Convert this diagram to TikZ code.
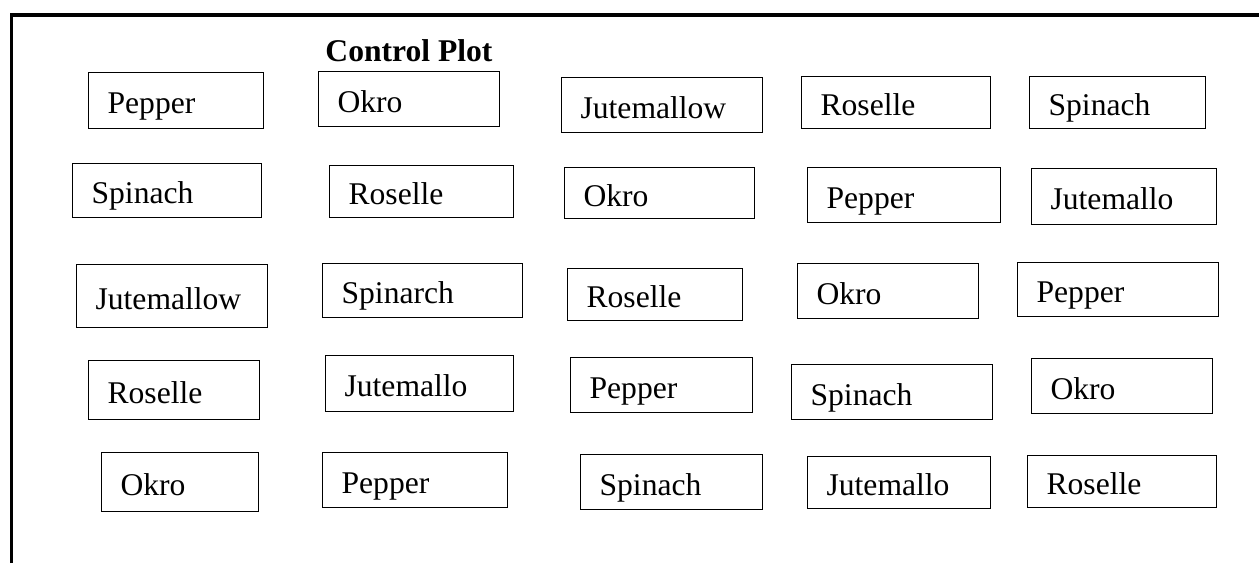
\documentclass[tikz,border=0pt]{standalone}
\usepackage{fontspec}
\setmainfont{LiberationSerif}[
    Extension=.ttf,
    UprightFont=*-Regular,
    BoldFont=*-Bold,
    ItalicFont=*-Italic,
    BoldItalicFont=*-BoldItalic]
\usepackage{tikz}
\usetikzlibrary{positioning}
\tikzset{
    % Plot cell box
    plotbox/.style={
        rectangle,
        draw=black,
        line width=0.6pt,
        fill=white,
        align=left,
        anchor=north west,
        inner xsep=9.5pt,
        inner ysep=2pt,
        text height=14pt,
        text depth=1pt,
        font=\rmfamily\fontsize{15.8}{19}\selectfont
    },
    % Title
    titlenode/.style={
        font=\rmfamily\fontsize{15.8}{19}\selectfont\bfseries,
        inner sep=0pt
    }
}
\begin{document}
\begin{tikzpicture}[x=0.5pt,y=-0.5pt]
    \useasboundingbox (0,0) rectangle (1259,563);
    % frame
    \coordinate (frame-bl) at (11.7,563);
    \coordinate (frame-tr) at (1259,15);
    \draw[line width=1.6pt] (frame-bl) |- (frame-tr);

    \node[titlenode] (title) at (409,51) {Control Plot};

    % row 1
    \node[plotbox, text width=68.5pt, minimum height=28pt] (r1-pepper) at (88,72) {Pepper};
    \node[plotbox, text width=71.5pt, minimum height=27.5pt] (r1-okro) at (318,71) {Okro};
    \node[plotbox, text width=81.5pt, minimum height=27.5pt] (r1-jute) at (561,77) {Jutemallow};
    \node[plotbox, text width=75.5pt, minimum height=26pt] (r1-roselle) at (801,76) {Roselle};
    \node[plotbox, text width=69pt, minimum height=26pt] (r1-spinach) at (1029,76) {Spinach};

    % row 2
    \node[plotbox, text width=75.5pt, minimum height=27pt] (r2-spinach) at (72,163) {Spinach};
    \node[plotbox, text width=73pt, minimum height=26pt] (r2-roselle) at (329,165) {Roselle};
    \node[plotbox, text width=76pt, minimum height=25.5pt] (r2-okro) at (564,167) {Okro};
    \node[plotbox, text width=77.5pt, minimum height=27.5pt] (r2-pepper) at (807,167) {Pepper};
    \node[plotbox, text width=73.5pt, minimum height=28pt] (r2-jute) at (1031,168) {Jutemallo};

    % row 3
    \node[plotbox, text width=76.5pt, minimum height=31.5pt] (r3-jute) at (76,264) {Jutemallow};
    \node[plotbox, text width=81pt, minimum height=27pt] (r3-spinach) at (322,263) {Spinarch};
    \node[plotbox, text width=68.5pt, minimum height=26pt] (r3-roselle) at (567,268) {Roselle};
    \node[plotbox, text width=71.5pt, minimum height=27.5pt] (r3-okro) at (797,263) {Okro};
    \node[plotbox, text width=81.5pt, minimum height=27pt] (r3-pepper) at (1017,262) {Pepper};

    % row 4
    \node[plotbox, text width=66.5pt, minimum height=29.5pt] (r4-roselle) at (88,360) {Roselle};
    \node[plotbox, text width=75pt, minimum height=28pt] (r4-jute) at (325,355) {Jutemallo};
    \node[plotbox, text width=72pt, minimum height=27.5pt] (r4-pepper) at (570,357) {Pepper};
    \node[plotbox, text width=81.5pt, minimum height=27.5pt] (r4-spinach) at (791,364) {Spinach};
    \node[plotbox, text width=71.5pt, minimum height=27.5pt] (r4-okro) at (1031,358) {Okro};

    % row 5
    \node[plotbox, text width=59.5pt, minimum height=29.5pt] (r5-okro) at (101,452) {Okro};
    \node[plotbox, text width=73.5pt, minimum height=27.5pt] (r5-pepper) at (322,452) {Pepper};
    \node[plotbox, text width=72pt, minimum height=27.5pt] (r5-spinach) at (580,454) {Spinach};
    \node[plotbox, text width=72.5pt, minimum height=26pt] (r5-jute) at (807,456) {Jutemallo};
    \node[plotbox, text width=75.5pt, minimum height=26pt] (r5-roselle) at (1027,455) {Roselle};
\end{tikzpicture}
\end{document}
